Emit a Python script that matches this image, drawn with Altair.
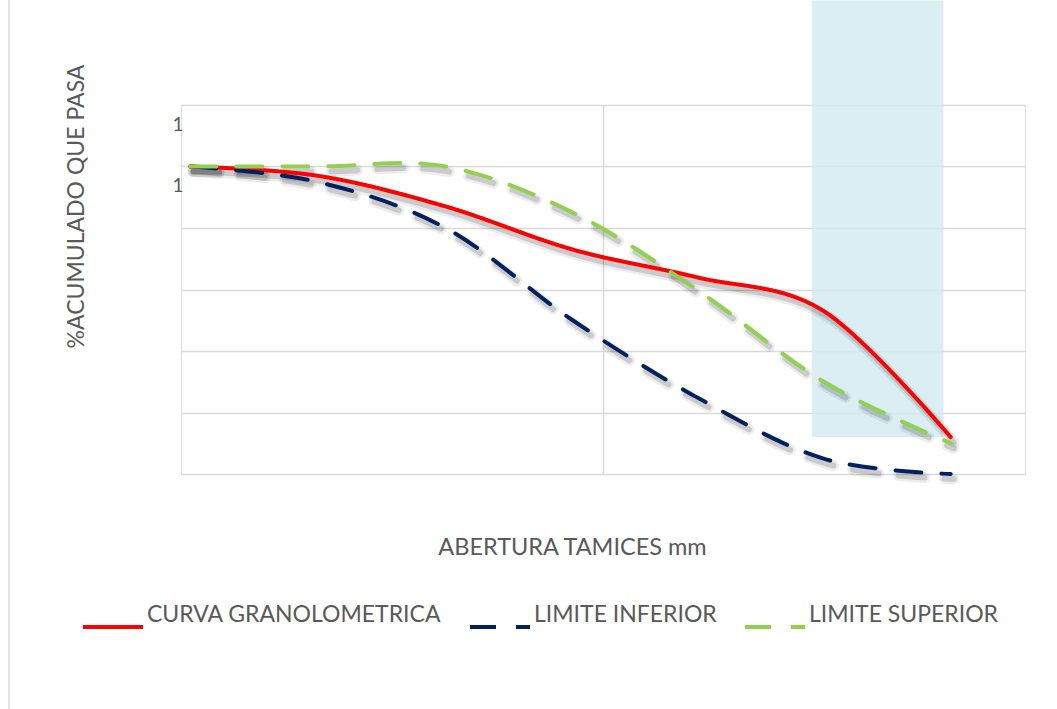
import altair as alt
import pandas as pd

# Sieve openings (mm) and cumulative percent passing
sieve_mm = [9.5, 4.75, 2.36, 1.18, 0.6, 0.3, 0.15]
curva = [100, 97, 87, 73, 64, 53, 12]
lim_inf = [100, 95, 80, 50, 25, 5, 0]
lim_sup = [100, 100, 100, 85, 60, 30, 10]

series_names = ["CURVA GRANOLOMETRICA", "LIMITE INFERIOR", "LIMITE SUPERIOR"]
series_colors = ["#FF0000", "#002060", "#92D050"]

# Shaded band (sieve range and percent range)
band_mm = [0.32, 0.156]
band_pct = [12, 154]

rows = []
for name, vals in zip(series_names, [curva, lim_inf, lim_sup]):
    for i, (s, v) in enumerate(zip(sieve_mm, vals)):
        rows.append({"serie": name, "tamiz": s, "pasa": v, "orden": i})
df = pd.DataFrame(rows)

band_df = pd.DataFrame([{"x1": band_mm[0], "x2": band_mm[1],
                         "y1": band_pct[0], "y2": band_pct[1]}])

FONT = "Lato"
TXT = "#595959"
GRID = "#D9D9D9"

x_scale = alt.Scale(type="log", domain=[0.1, 10], reverse=True, nice=False)
y_scale = alt.Scale(domain=[0, 120], nice=False)

x_axis = alt.Axis(values=[1], labels=False, ticks=False, domain=False,
                  grid=True, gridColor=GRID, gridWidth=1.5,
                  title="ABERTURA TAMICES mm", titleFont=FONT, titleFontSize=23.5,
                  titleFontWeight="normal", titleColor=TXT,
                  titleX=391, titleY=73, titleAlign="center", titleBaseline="middle")
y_axis = alt.Axis(values=[0, 20, 40, 60, 80, 100, 120], ticks=False, domain=False,
                  grid=True, gridColor=GRID, gridWidth=1.5,
                  labelExpr="datum.value >= 100 ? '1' : ''",
                  labelOffset=19, labelPadding=-2, labelFont=FONT,
                  labelFontSize=19, labelColor=TXT,
                  title="%ACUMULADO QUE PASA", titleFont=FONT, titleFontSize=23,
                  titleFontWeight="normal", titleColor=TXT, titleAngle=-90,
                  titleX=-105, titleY=101, titleAlign="center", titleBaseline="middle")

band = alt.Chart(band_df).mark_rect(color="#D1EAF0", opacity=0.8, clip=False).encode(
    x=alt.X("x1:Q", scale=x_scale, axis=x_axis),
    x2="x2:Q",
    y=alt.Y("y1:Q", scale=y_scale, axis=y_axis),
    y2="y2:Q",
)

base = alt.Chart(df)
xenc = alt.X("tamiz:Q", scale=x_scale, axis=x_axis)
yenc = alt.Y("pasa:Q", scale=y_scale, axis=y_axis)

def shadow(name_filter, dash, width, opacity):
    mk = dict(interpolate="cardinal", tension=0, color="#000000",
              strokeWidth=width, strokeOpacity=opacity, xOffset=3, yOffset=5,
              strokeCap="round")
    if dash:
        mk["strokeDash"] = dash
    return base.transform_filter(name_filter).mark_line(**mk).encode(
        x=xenc, y=yenc, detail="serie:N", order="orden:Q")

solid_f = alt.datum.serie == series_names[0]
dash_f = alt.datum.serie != series_names[0]
shadows = [
    shadow(solid_f, None, 11, 0.07),
    shadow(solid_f, None, 6, 0.14),
    shadow(dash_f, [26, 20], 11, 0.07),
    shadow(dash_f, [26, 20], 6, 0.14),
]

legend_opts = dict(orient="none", legendX=-100, legendY=490,
                   direction="horizontal", title=None,
                   symbolType="stroke", symbolSize=3600,
                   symbolStrokeWidth=4, labelFont=FONT,
                   labelFontSize=23, labelColor=TXT,
                   labelOffset=2, labelLimit=0,
                   columnPadding=20, labelBaseline="bottom")

lines = base.mark_line(interpolate="cardinal", tension=0, strokeWidth=4,
                       strokeCap="round").encode(
    x=xenc,
    y=yenc,
    order="orden:Q",
    color=alt.Color("serie:N",
                    scale=alt.Scale(domain=series_names, range=series_colors),
                    legend=alt.Legend(**legend_opts)),
    strokeDash=alt.StrokeDash("serie:N",
                              scale=alt.Scale(domain=series_names,
                                              range=[[1, 0], [26, 20], [26, 20]]),
                              legend=alt.Legend(**legend_opts)),
)

# Thin outer border on the left side of the chart area
border = alt.Chart(pd.DataFrame({"a": [0]})).mark_rule(
    color=GRID, strokeWidth=1.5, clip=False).encode(
    x=alt.value(-172), y=alt.value(-105), y2=alt.value(604))

chart = alt.layer(band, *shadows, lines, border).properties(
    width=844, height=369,
    autosize=alt.AutoSizeParams(type="none"),
    padding={"left": 181, "top": 105, "right": 32, "bottom": 235},
).configure_view(stroke=GRID, strokeWidth=1.5).configure(background="white")

chart.save("out.html", embed_options={"renderer": "svg", "actions": False})
